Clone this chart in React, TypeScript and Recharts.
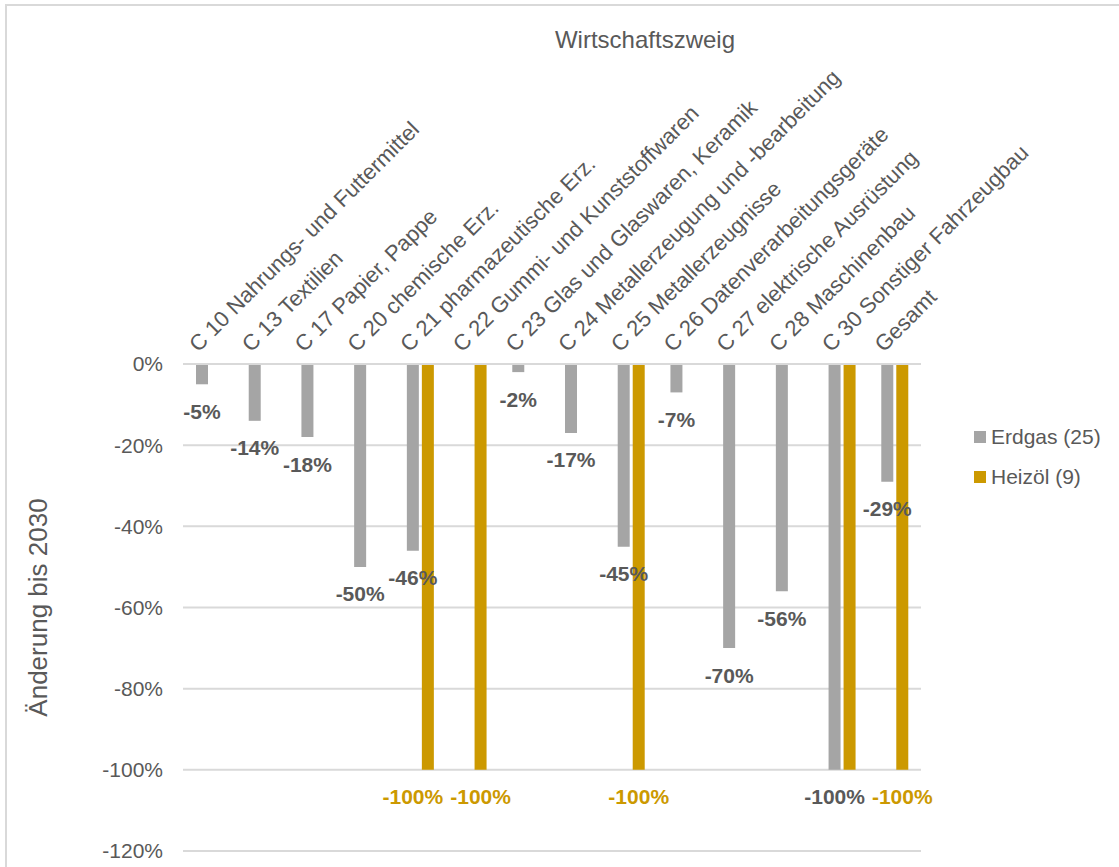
import React from 'react';
import { BarChart, Bar, XAxis, YAxis, CartesianGrid, Legend, LabelList } from 'recharts';

// Wirtschaftszweige (WZ 2008), shown along the top axis
const branches = [
  'C 10 Nahrungs- und Futtermittel',
  'C 13 Textilien',
  'C 17 Papier, Pappe',
  'C 20 chemische Erz.',
  'C 21 pharmazeutische Erz.',
  'C 22 Gummi- und Kunststoffwaren',
  'C 23 Glas und Glaswaren, Keramik',
  'C 24 Metallerzeugung und -bearbeitung',
  'C 25 Metallerzeugnisse',
  'C 26 Datenverarbeitungsgeräte',
  'C 27 elektrische Ausrüstung',
  'C 28 Maschinenbau',
  'C 30 Sonstiger Fahrzeugbau',
  'Gesamt',
];

// change until 2030 in percent, null = no answer
const erdgas = [-5, -14, -18, -50, -46, null, -2, -17, -45, -7, -70, -56, -100, -29];
const heizoel = [null, null, null, null, -100, -100, null, null, -100, null, null, null, -100, -100];
// C 30 carries only the Erdgas label, both would sit on top of each other
const heizoelLabelled = [false, false, false, false, true, true, false, false, true, false, false, false, false, true];

const yTicks = [0, -20, -40, -60, -80, -100, -120];

const GRAY = '#A5A5A5';
const GOLD = '#CC9900';
const TEXT = '#595959';
const GRID = '#D9D9D9';
const FONT = '"Liberation Sans", Arial, sans-serif';

const data = branches.map((name, i) => ({ name, idx: i, erdgas: erdgas[i], heizoel: heizoel[i] }));

const BranchTick = (props: any) => {
  const { x, y, payload } = props;
  const sx = x - 11;
  const sy = y - 11;
  return (
    <text
      x={sx}
      y={sy}
      transform={`rotate(-45 ${sx} ${sy})`}
      textAnchor="start"
      fill={TEXT}
      fontSize={22}
      fontFamily={FONT}
    >
      {payload.value}
    </text>
  );
};

// labels get the category index as value and look the number up themselves
const erdgasLabel = (props: any) => {
  const { x, y, width, height, value } = props;
  const v = erdgas[value];
  if (v == null) return null;
  const end = Math.max(Number(y), Number(y) + Number(height));
  return (
    <text
      x={Number(x) + Number(width) / 2}
      y={end + 27}
      textAnchor="middle"
      dominantBaseline="central"
      fill={TEXT}
      fontSize={21}
      fontWeight="bold"
      fontFamily={FONT}
    >
      {`${v}%`}
    </text>
  );
};

const heizoelLabel = (props: any) => {
  const { x, y, width, height, value } = props;
  const v = heizoel[value];
  if (v == null || !heizoelLabelled[value]) return null;
  const end = Math.max(Number(y), Number(y) + Number(height));
  // push left when the neighbour on the right is labelled too
  const dx = heizoelLabelled[value + 1] ? -15 : 0;
  return (
    <text
      x={Number(x) + Number(width) / 2 + dx}
      y={end + 27}
      textAnchor="middle"
      dominantBaseline="central"
      fill={GOLD}
      fontSize={21}
      fontWeight="bold"
      fontFamily={FONT}
    >
      {`${v}%`}
    </text>
  );
};

const LegendBox = (props: any) => {
  const { payload } = props;
  return (
    <div style={{ fontFamily: FONT, fontSize: 21, color: TEXT }}>
      {payload.map((p: any) => (
        <div key={p.value} style={{ display: 'flex', alignItems: 'center', height: 40 }}>
          <span style={{ display: 'inline-block', width: 12, height: 12, background: p.color, marginRight: 5 }} />
          <span>{p.value}</span>
        </div>
      ))}
    </div>
  );
};

export default function App() {
  return (
    <div style={{ position: 'absolute', left: 0, top: 0, width: 1119, height: 867, background: '#fff', overflow: 'hidden' }}>
      <div
        style={{
          position: 'absolute',
          left: 5,
          top: 4,
          right: -10,
          bottom: -10,
          borderLeft: `2px solid ${GRID}`,
          borderTop: `2px solid ${GRID}`,
        }}
      />
      <BarChart
        width={1119}
        height={867}
        data={data}
        margin={{ top: 64, right: 198, bottom: 16, left: 103 }}
        barSize={12}
        barGap={3}
        style={{ fontFamily: FONT }}
      >
        <CartesianGrid vertical={false} stroke={GRID} strokeWidth={2} />
        <XAxis
          dataKey="name"
          orientation="top"
          height={300}
          interval={0}
          tickSize={0}
          tickMargin={0}
          tick={<BranchTick />}
          axisLine={{ stroke: GRID, strokeWidth: 2 }}
          tickLine={false}
          label={{
            content: (p: any) => {
              const vb = p.viewBox;
              return (
                <text
                  x={vb.x + vb.width / 2 + 93}
                  y={vb.y - 25}
                  textAnchor="middle"
                  dominantBaseline="central"
                  fill={TEXT}
                  fontSize={24}
                  fontFamily={FONT}
                >
                  Wirtschaftszweig
                </text>
              );
            },
          }}
        />
        <YAxis
          type="number"
          domain={[-120, 0]}
          ticks={yTicks}
          width={80}
          tickSize={0}
          tickMargin={20}
          axisLine={false}
          tickLine={false}
          tickFormatter={(v: number) => `${v}%`}
          tick={{ fill: TEXT, fontSize: 21, fontFamily: FONT }}
          label={{
            content: (p: any) => {
              const vb = p.viewBox;
              const cx = vb.x - 65;
              const cy = vb.y + vb.height / 2;
              return (
                <text
                  x={cx}
                  y={cy}
                  transform={`rotate(-90 ${cx} ${cy})`}
                  textAnchor="middle"
                  dominantBaseline="central"
                  fill={TEXT}
                  fontSize={26}
                  fontFamily={FONT}
                >
                  Änderung bis 2030
                </text>
              );
            },
          }}
        />
        <Legend
          layout="vertical"
          align="center"
          verticalAlign="middle"
          content={<LegendBox />}
          wrapperStyle={{ left: 974, top: 417, width: 140 }}
        />
        <Bar dataKey="erdgas" name="Erdgas (25)" fill={GRAY} isAnimationActive={false}>
          <LabelList dataKey="idx" content={erdgasLabel} />
        </Bar>
        <Bar dataKey="heizoel" name="Heizöl (9)" fill={GOLD} isAnimationActive={false}>
          <LabelList dataKey="idx" content={heizoelLabel} />
        </Bar>
      </BarChart>
    </div>
  );
}
